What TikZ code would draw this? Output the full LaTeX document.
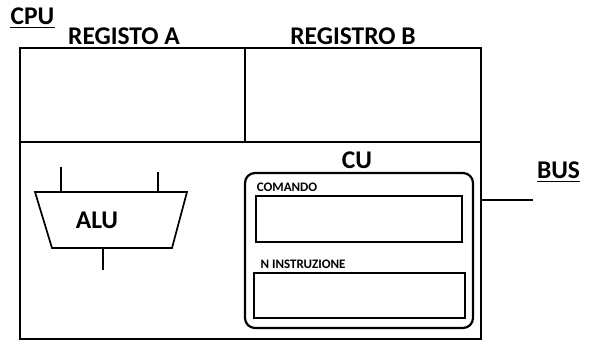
\documentclass[tikz,border=0pt]{standalone}
\usepackage{fontspec}
\setmainfont{Carlito}
\begin{document}
\begin{tikzpicture}[x=1pt,y=-1pt,
  big/.style={font=\fontsize{25.5}{27}\selectfont\bfseries, inner sep=0pt},
  small/.style={font=\fontsize{13}{15}\selectfont\bfseries, inner sep=0pt},
  frame/.style={draw, line width=2.4pt},
  thin/.style={draw, line width=1.7pt}]
\useasboundingbox (0,0) rectangle (591,343);
% outer CPU box
\draw[frame] (20,48) rectangle (481,339);
\draw[frame] (20,142) -- (481,142);
\draw[frame] (245,48) -- (245,142);
% labels
\node[big] (cpu) at (32.5,16) {CPU};
\draw[line width=1.5pt] ([yshift=-3pt]cpu.south west) -- ([yshift=-3pt]cpu.south east);
\node[big] (rega) at (124,36) {REGISTO A};
\node[big] (regb) at (353,36) {REGISTRO B};
% ALU
\coordinate (a1) at (35,192);
\coordinate (a2) at (187,192);
\coordinate (a3) at (172,248);
\coordinate (a4) at (52,248);
\draw[thin] (a1) -- (a2) -- (a3) -- (a4) -- cycle;
\node[big] (alu) at (97,220) {ALU};
\coordinate (in1) at (61,167);
\coordinate (in2) at (158,172);
\coordinate (out) at (103,270);
\draw[thin] (in1) -- (61,192);
\draw[thin] (in2) -- (158,192);
\draw[thin] (103,248) -- (out);
% CU
\node[big] (cu) at (357,160.5) {CU};
\node[draw, line width=2.2pt, rounded corners=10pt, minimum width=228pt, minimum height=155pt, inner sep=0pt] (cubox) at (359,250.5) {};
\node[small] (com) at (287,187) {COMANDO};
\node[draw, line width=2.2pt, minimum width=206pt, minimum height=46pt, inner sep=0pt] (combox) at (359,219) {};
\node[small] (nins) at (303,264.5) {N INSTRUZIONE};
\node[draw, line width=2.2pt, minimum width=211pt, minimum height=45pt, inner sep=0pt] (ninsbox) at (359.5,295.5) {};
% BUS
\node[big] (bus) at (558.5,170) {BUS};
\draw[line width=1.5pt] ([yshift=-3pt]bus.south west) -- ([yshift=-3pt]bus.south east);
\coordinate (busend) at (533,200);
\draw[thin] (481,200) -- (busend);
\end{tikzpicture}
\end{document}
